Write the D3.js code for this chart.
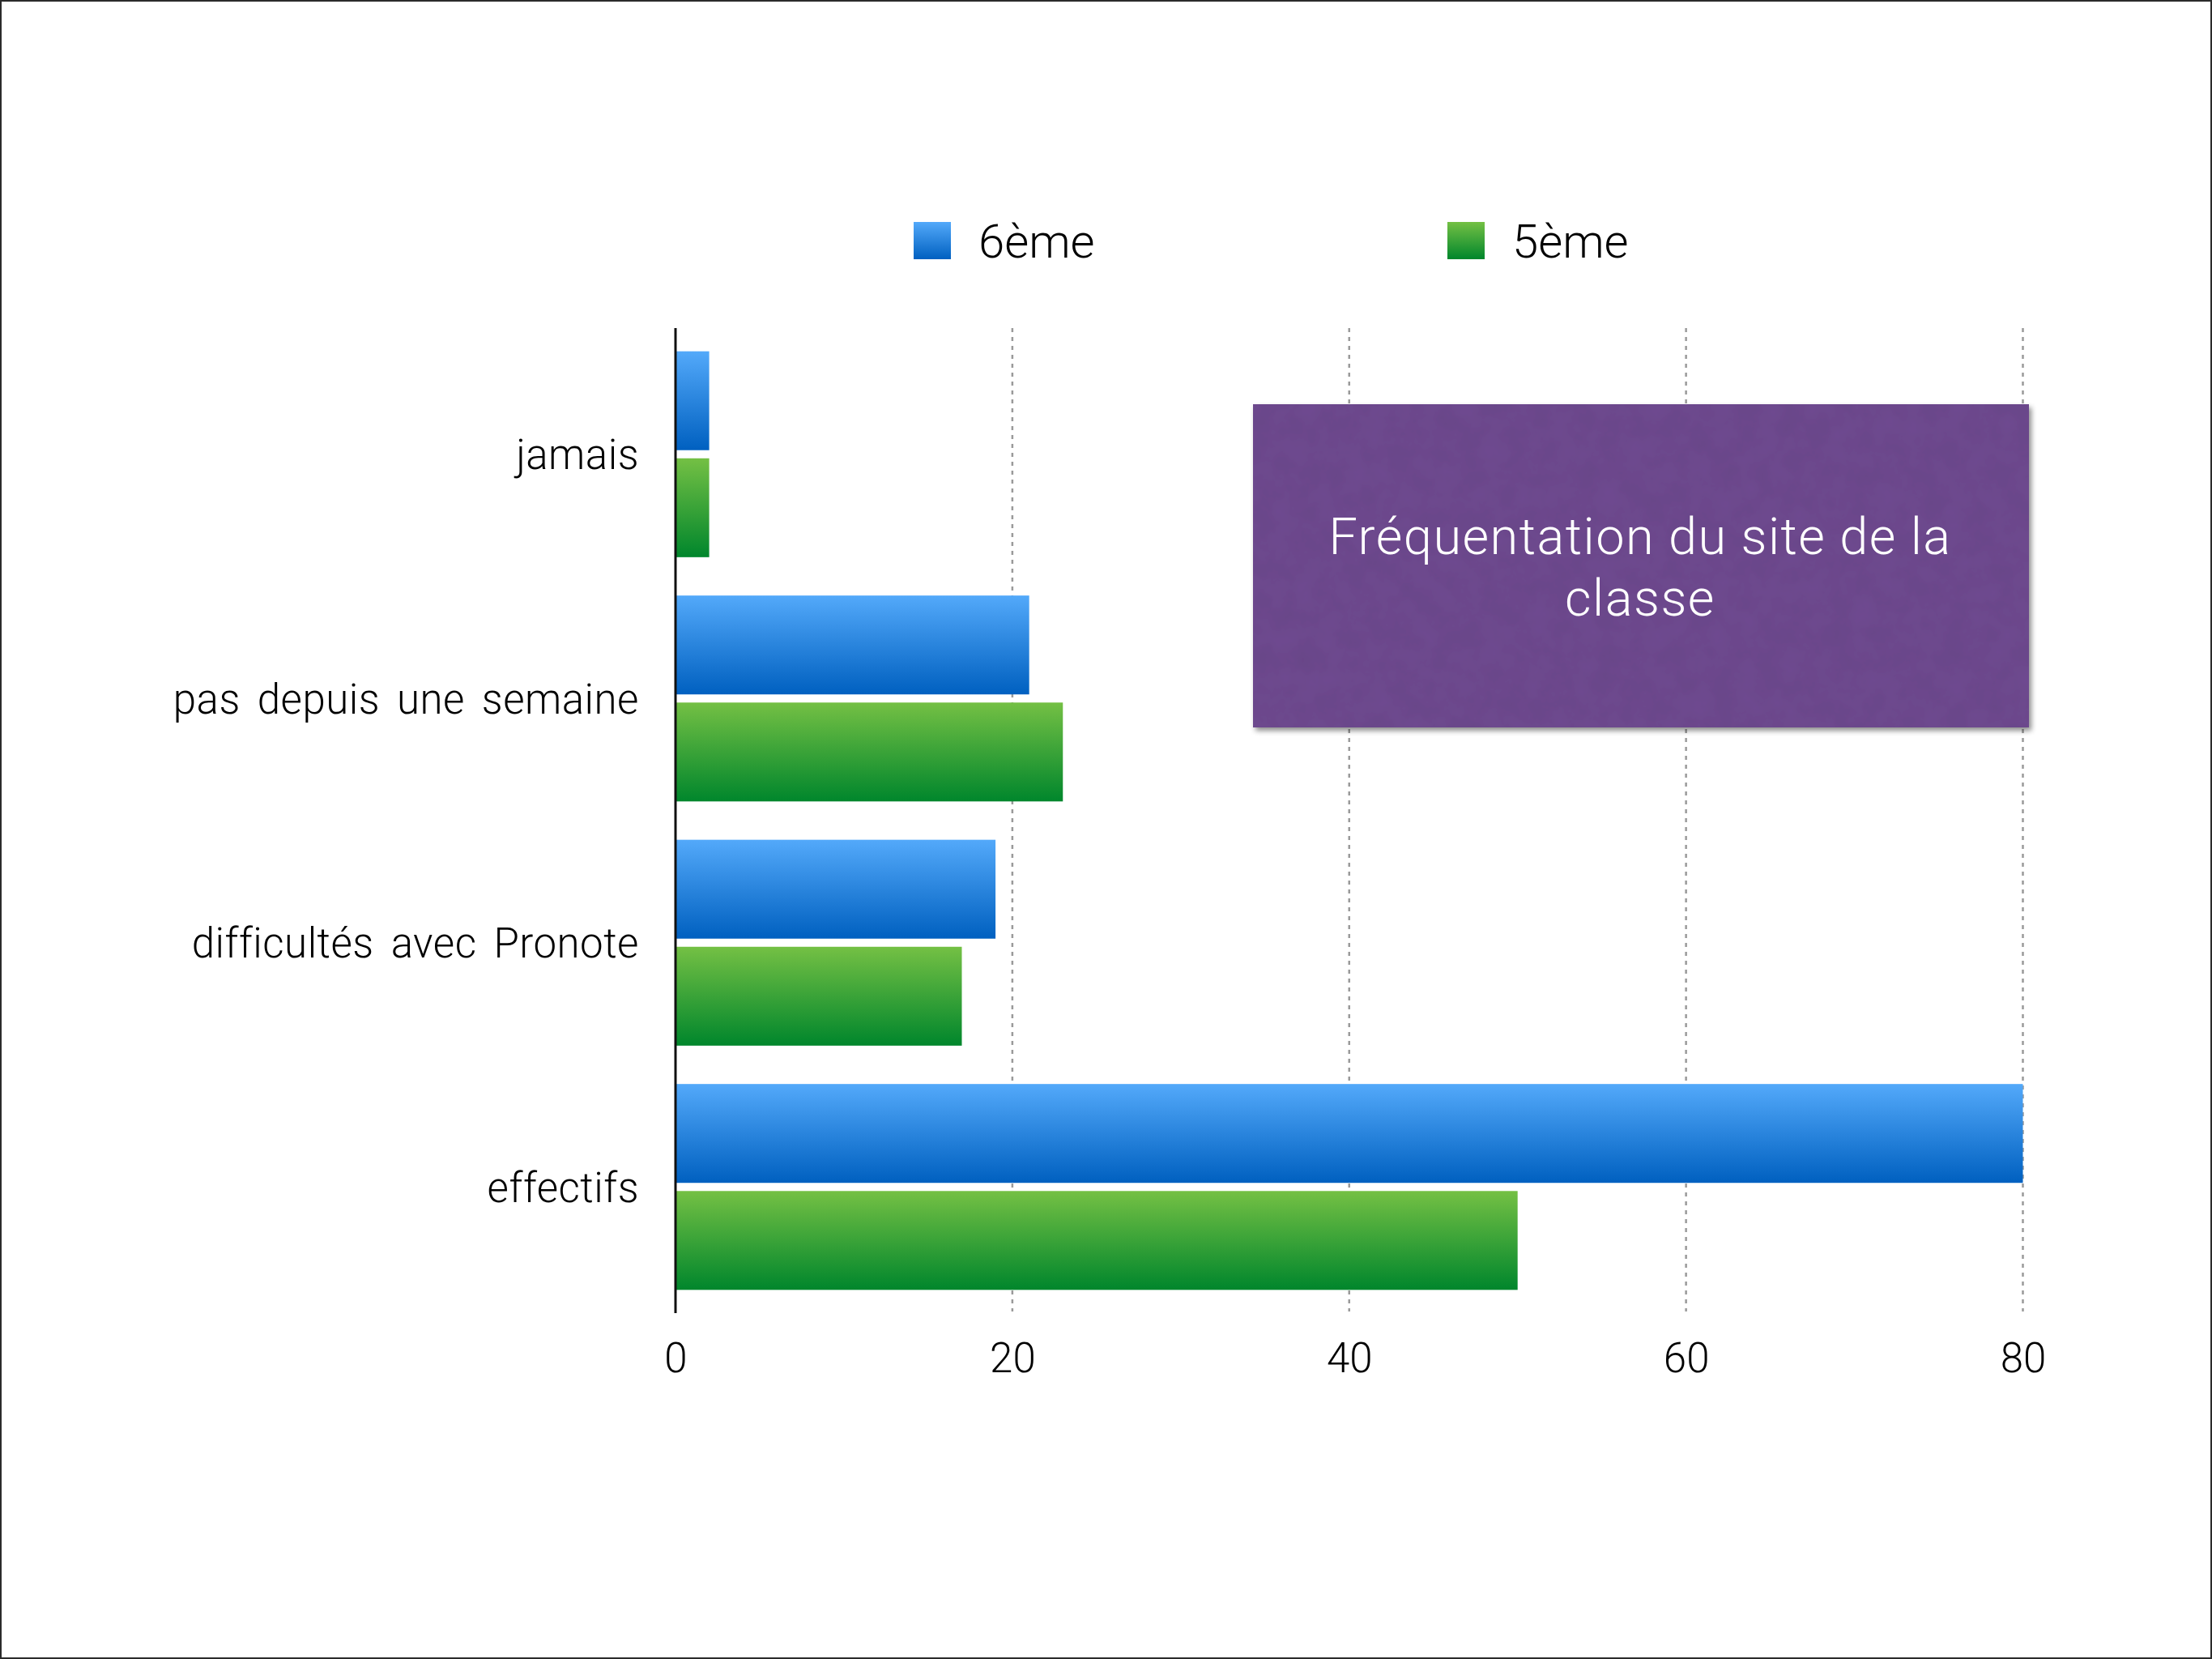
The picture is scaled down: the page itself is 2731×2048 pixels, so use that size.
<!DOCTYPE html>
<html>
<head>
<meta charset="utf-8">
<script src="https://cdn.jsdelivr.net/npm/d3@7"></script>
<style>
  html, body { margin: 0; padding: 0; background: #fff; }
  svg { display: block; }
  text { font-family: "Roboto", "Liberation Sans", sans-serif; font-weight: 300; fill: #000; }
</style>
</head>
<body>
<svg id="chart" width="2731" height="2048"></svg>
<script>
const categories = ["jamais", "pas depuis une semaine", "difficultés avec Pronote", "effectifs"];
const seriesNames = ["6ème", "5ème"];
const values6 = [2, 21, 19, 80];
const values5 = [2, 23, 17, 50];
const xTicks = [0, 20, 40, 60, 80];
const titleLines = ["Fréquentation du site de la", "classe"];

const W = 2731, H = 2048;
const svg = d3.select("#chart");

const defs = svg.append("defs");
const gradBlue = defs.append("linearGradient").attr("id", "gBlue").attr("x1", 0).attr("y1", 0).attr("x2", 0).attr("y2", 1);
gradBlue.append("stop").attr("offset", "0%").attr("stop-color", "#53a9fa");
gradBlue.append("stop").attr("offset", "100%").attr("stop-color", "#0060c0");
const gradGreen = defs.append("linearGradient").attr("id", "gGreen").attr("x1", 0).attr("y1", 0).attr("x2", 0).attr("y2", 1);
gradGreen.append("stop").attr("offset", "0%").attr("stop-color", "#74c044");
gradGreen.append("stop").attr("offset", "100%").attr("stop-color", "#00862c");

const shadow = defs.append("filter").attr("id", "shadow").attr("x", "-5%").attr("y", "-5%").attr("width", "115%").attr("height", "115%");
shadow.append("feDropShadow").attr("dx", 3).attr("dy", 4).attr("stdDeviation", 3).attr("flood-color", "#000").attr("flood-opacity", 0.45);

const paper = defs.append("filter").attr("id", "paper").attr("x", 0).attr("y", 0).attr("width", "100%").attr("height", "100%");
paper.append("feTurbulence").attr("type", "fractalNoise").attr("baseFrequency", 0.035).attr("numOctaves", 4).attr("seed", 3).attr("result", "noise");
paper.append("feColorMatrix").attr("in", "noise").attr("type", "matrix")
  .attr("values", "0 0 0 0 0  0 0 0 0 0  0 0 0 0 0  0 0 0 0.12 0").attr("result", "dark");
paper.append("feComposite").attr("in", "dark").attr("in2", "SourceGraphic").attr("operator", "in").attr("result", "darkIn");
const merge = paper.append("feMerge");
merge.append("feMergeNode").attr("in", "SourceGraphic");
merge.append("feMergeNode").attr("in", "darkIn");

// background + border
svg.append("rect").attr("x", 1).attr("y", 1).attr("width", W - 2).attr("height", H - 2)
  .attr("fill", "#fff").attr("stroke", "#2b2b2b").attr("stroke-width", 2);

const x = d3.scaleLinear().domain([0, 80]).range([834, 2497.5]);
const y = d3.scaleBand().domain(categories).range([410, 1616]).paddingInner(0.157).paddingOuter(0.0785);
const ySub = d3.scaleBand().domain(seriesNames).range([0, y.bandwidth()]).paddingInner(0.076);

const plotTop = 405, plotBottom = 1619;

// gridlines
svg.append("g").selectAll("line").data(xTicks.filter(d => d > 0)).join("line")
  .attr("x1", d => x(d)).attr("x2", d => x(d))
  .attr("y1", plotTop).attr("y2", plotBottom)
  .attr("stroke", "#9a9a9a").attr("stroke-width", 2.5).attr("stroke-dasharray", "5,6");

// bars
const series = [
  { name: seriesNames[0], values: values6, fill: "url(#gBlue)" },
  { name: seriesNames[1], values: values5, fill: "url(#gGreen)" }
];
series.forEach(s => {
  svg.append("g").selectAll("rect").data(categories).join("rect")
    .attr("x", x(0))
    .attr("y", (c) => y(c) + ySub(s.name))
    .attr("width", (c, i) => x(s.values[i]) - x(0))
    .attr("height", ySub.bandwidth())
    .attr("fill", s.fill);
});

// y axis line
svg.append("line").attr("x1", x(0)).attr("x2", x(0)).attr("y1", plotTop).attr("y2", plotBottom + 2)
  .attr("stroke", "#111").attr("stroke-width", 3);

// x tick labels
const xAxis = d3.axisBottom(x).tickValues(xTicks).tickSize(0).tickPadding(0).tickFormat(d3.format("d"));
const gx = svg.append("g").attr("transform", `translate(0, 1694)`).call(xAxis);
gx.select(".domain").remove();
gx.selectAll("text").attr("dy", 0).attr("y", 0)
  .style("font-family", "Roboto, sans-serif").style("font-weight", 300).style("font-size", "51px").attr("fill", "#000");

// y category labels
const yAxis = d3.axisLeft(y).tickSize(0).tickPadding(0);
const gy = svg.append("g").attr("transform", `translate(789, 0)`).call(yAxis);
gy.select(".domain").remove();
gy.selectAll("text").attr("x", 0).attr("dy", "0.36em")
  .style("font-family", "Roboto, sans-serif").style("font-weight", 300).style("font-size", "51px")
  .style("letter-spacing", "0.5px").style("word-spacing", "8px").attr("fill", "#000");

// legend
const legendX = [1128, 1787];
const legend = svg.append("g").selectAll("g").data(series).join("g")
  .attr("transform", (d, i) => `translate(${legendX[i]}, 274)`);
legend.append("rect").attr("width", 46).attr("height", 46).attr("fill", d => d.fill);
legend.append("text").attr("x", 80).attr("y", 44).text(d => d.name)
  .style("font-size", "58px");

// title box
const box = svg.append("g");
box.append("rect").attr("x", 1547).attr("y", 499).attr("width", 958).attr("height", 399)
  .attr("fill", "#704b91").attr("filter", "url(#shadow)");
box.append("rect").attr("x", 1547).attr("y", 499).attr("width", 958).attr("height", 399)
  .attr("fill", "#704b91").attr("filter", "url(#paper)");
box.selectAll("text").data(titleLines).join("text")
  .attr("x", 2025).attr("y", (d, i) => 684 + i * 76)
  .attr("text-anchor", "middle")
  .style("font-size", "63px").style("letter-spacing", "1.5px").style("fill", "#fff")
  .text(d => d);
</script>
</body>
</html>
